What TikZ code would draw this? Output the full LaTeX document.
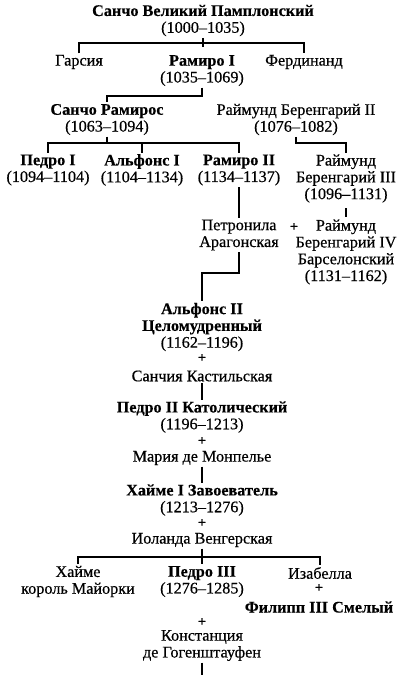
\documentclass[tikz,border=0pt]{standalone}
\usepackage{fontspec}
\setmainfont{Liberation Serif}[UprightFeatures={FakeBold=0.5},BoldFeatures={FakeBold=0.3}]
\begin{document}
\begin{tikzpicture}[x=1pt,y=-1pt,
  every node/.style={font=\fontsize{16.2}{16.8}\selectfont, align=center, inner sep=1.5pt},
  conn/.style={line width=1.1pt},
  plussign/.style={font=\fontsize{14}{15}\selectfont\bfseries}]
\useasboundingbox (0,0) rectangle (406,680);
% people
\node (sancho) at (203,20.5) {\textbf{Санчо Великий Памплонский}\\(1000--1035)};
\node (garsia) at (79,62) {Гарсия};
\node (ramiro1) at (202,70.5) {\textbf{Рамиро I}\\(1035--1069)};
\node (ferd) at (304,62) {Фердинанд};
\node (sanchoR) at (107,119.5) {\textbf{Санчо Рамирос}\\(1063--1094)};
\node (rb2) at (296,119.5) {Раймунд Беренгарий II\\(1076--1082)};
\node (pedro1) at (48,170) {\textbf{Педро I}\\(1094--1104)};
\node (alf1) at (142,170) {\textbf{Альфонс I}\\(1104--1134)};
\node (ramiro2) at (239,170) {\textbf{Рамиро II}\\(1134--1137)};
\node (rb3) at (346,178.5) {Раймунд\\Беренгарий III\\(1096--1131)};
\node (petr) at (239,235) {Петронила\\Арагонская};
\node[plussign] (plusA) at (294,227) {+};
\node (rb4) at (346,252) {Раймунд\\Беренгарий IV\\Барселонский\\(1131--1162)};
\node (alf2) at (202,327) {\textbf{Альфонс II}\\\textbf{Целомудренный}\\(1162--1196)};
\node[plussign] (plusB) at (202,358) {+};
\node (sanchia) at (202,376) {Санчия Кастильская};
\node (pedro2) at (202,417) {\textbf{Педро II Католический}\\(1196--1213)};
\node[plussign] (plusC) at (202,441) {+};
\node (maria) at (202,458) {Мария де Монпелье};
\node (jaime1) at (202,500) {\textbf{Хайме I Завоеватель}\\(1213--1276)};
\node[plussign] (plusD) at (202,523) {+};
\node (yol) at (202,540) {Иоланда Венгерская};
\node (jaimeM) at (78,581.5) {Хайме\\король Майорки};
\node (pedro3) at (202,581.5) {\textbf{Педро III}\\(1276--1285)};
\node (isab) at (320,573) {Изабелла};
\node[plussign] (plusE) at (319,588) {+};
\node (phil) at (319,607) {\textbf{Филипп III Смелый}};
\node[plussign] (plusF) at (202,622) {+};
\node (const) at (202,645.5) {Констанция\\де Гогенштауфен};
% bus coordinates
\coordinate (busA) at (0,43);
\coordinate (tickA) at (0,47);
\coordinate (busB) at (0,96);
\coordinate (busC) at (0,143);
\coordinate (busD) at (0,273);
\coordinate (busE) at (0,557);
\coordinate (tail) at (202,675);
% connectors
\draw[conn] (sancho.south) -- (sancho |- tickA);
\draw[conn] (garsia.north) -- (garsia |- busA) -- (ferd |- busA) -- (ferd.north);
\draw[conn] (ramiro1.south) -- (ramiro1 |- busB) -- (sanchoR |- busB) -- (sanchoR.north);
\draw[conn] (sanchoR.south) -- (sanchoR |- busC);
\draw[conn] (pedro1.north) -- (pedro1 |- busC) -- (ramiro2 |- busC) -- (ramiro2.north);
\draw[conn] (alf1 |- busC) -- (alf1.north);
\draw[conn] (rb2.south) -- (rb2 |- busC) -- (rb3 |- busC) -- (rb3.north);
\draw[conn, shorten <=4pt, shorten >=1pt] (rb3) -- (rb4);
\draw[conn] (ramiro2) -- (petr);
\draw[conn] (petr.south) -- (petr |- busD) -- (alf2 |- busD) -- (alf2.north);
\draw[conn] (sanchia) -- (pedro2);
\draw[conn] (maria) -- (jaime1);
\draw[conn] (yol) -- (pedro3);
\draw[conn] (jaimeM.north) -- (jaimeM |- busE) -- (isab |- busE) -- (isab.north);
\draw[conn] (const) -- (tail);
\end{tikzpicture}
\end{document}
